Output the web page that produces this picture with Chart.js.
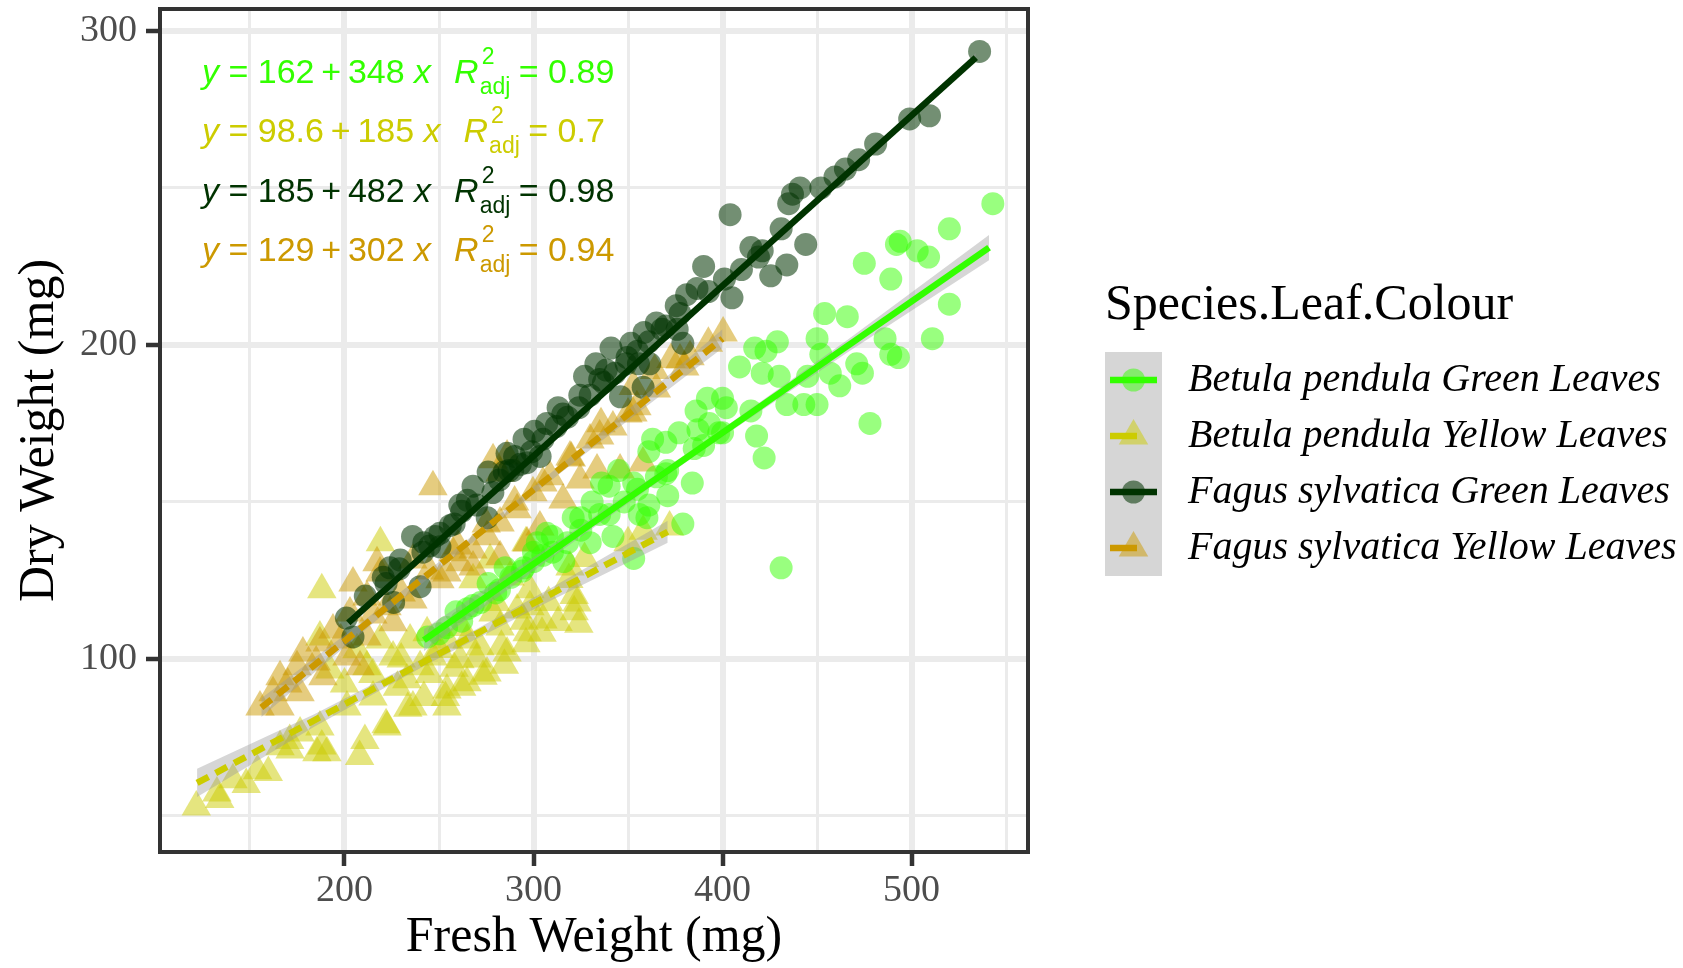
<!DOCTYPE html>
<html>
<head>
<meta charset="utf-8">
<script src="https://cdn.jsdelivr.net/npm/chart.js@4.4.0/dist/chart.umd.min.js"></script>
<style>
  html, body { margin: 0; padding: 0; background: #fff; }
  canvas { display: block; }
</style>
</head>
<body>
<canvas id="chart" width="1683" height="968"></canvas>
<script>
// ====== DATA ======
const groupNames = ["Betula pendula Green Leaves", "Betula pendula Yellow Leaves",
                    "Fagus sylvatica Green Leaves", "Fagus sylvatica Yellow Leaves"];

// Betula pendula, green leaves (circles)
const bgX = [543, 520, 494, 503, 509, 492, 475, 489, 520, 511, 486, 489, 493, 454, 466, 450, 452, 417, 429, 423,
             409, 421, 430, 445, 457, 462, 471, 474, 434, 443, 450, 478, 400, 402, 386, 418, 393, 431, 422, 384,
             371, 379, 360, 353, 340, 331, 325, 307, 342, 330, 316, 300, 370, 361, 377, 336, 363, 353, 356, 321,
             300, 244, 254, 259, 268, 276, 282, 285, 294, 302, 310, 361, 371, 392, 262, 272, 288, 305, 318, 335,
             348, 365, 390, 398, 345, 387, 250, 265, 280, 295, 310, 325, 340, 355, 370, 385, 400, 415];
const bgY = [245, 237, 233, 230, 228, 232, 226, 221, 213, 202, 202, 197, 196, 210, 209, 202, 197, 199, 201, 198,
             193, 191, 190, 190, 191, 187, 194, 191, 181, 181, 181, 175, 183, 180, 179, 171, 175, 129, 164, 156,
             152, 143, 145, 132, 155, 150, 145, 140, 139, 137, 131, 134, 169, 166, 172, 156, 170, 156, 146, 145,
             131, 107, 110, 115, 117, 124, 122, 129, 128, 137, 139, 149, 160, 183, 112, 118, 126, 133, 137, 146,
             150, 158, 168, 172, 160, 173, 108, 116, 121, 129, 134, 141, 146, 154, 159, 167, 172, 179];

// Betula pendula, yellow leaves (triangles)
const byX = [121.6, 134, 154, 159.7, 171, 188, 208, 210.8, 188, 219, 222, 233.5, 242, 253.4, 262, 273.3, 284.6, 296, 304.5, 313,
             321.5, 321.5, 318.7, 187, 192.3, 211.9, 225.7, 240, 254.2, 264.8, 275.4, 286, 296.6, 282.3, 271.7, 278.6, 291.3, 298.1, 287.6, 277,
             254.2, 236.2, 222.5, 190.7, 171.2, 141, 132.5, 233, 215.1, 201.3, 187, 176.5, 165.9, 246.8, 261.1, 264.8, 254.2, 243.7, 234.7, 218.8,
             206.6, 268, 185.4, 148, 305, 324, 323, 298.1, 372, 319.3, 358, 350, 327, 296,
             200, 215, 228, 245, 258, 270, 283, 295, 308, 280, 262, 230, 250];
const byY = [52.8, 55.2, 64.4, 63.8, 74, 72.3, 68.9, 74, 122, 137, 79, 84.3, 87.7, 87.7, 91, 94.5, 98, 104.8, 108.2, 111.6,
             115, 120.2, 125.3, 107, 96.5, 97.5, 100.6, 97.5, 90.1, 92.4, 95.5, 101.9, 108.3, 110.2, 103.8, 114.6, 115.6, 122, 126.1, 131.5,
             84.7, 84.7, 78.3, 70.1, 71, 61.5, 57.3, 93.4, 87.9, 84.7, 78.3, 76.4, 72, 100.6, 99.7, 106, 106, 108.3, 106, 106,
             102.9, 125.2, 70.1, 60, 112.4, 111, 117.8, 116.6, 142, 129.3, 140.7, 137, 132, 137,
             92, 95, 91, 95, 97, 100, 104, 112, 118, 118, 110, 100, 103];

// Fagus sylvatica, green leaves (circles)
const fgX = [536, 509.5, 499, 481, 472, 465, 459.5, 452, 441, 437, 444, 435, 431, 425.5, 434, 419, 415, 421, 404, 410,
             401, 390, 392.5, 405, 386.5, 381, 375.5, 377.5, 370, 376, 379, 365, 358.5, 351.5, 355.5, 349.5, 361.5, 358, 341, 338.5,
             333, 327, 335, 346, 324.5, 315.5, 313, 307, 300.5, 295, 290, 286, 289, 296.5, 303.5, 284.5, 276, 278.5, 268, 265,
             261, 275.5, 256, 250.5, 250.5, 248, 242, 241.5, 236, 229, 229.5, 224, 222, 220.5, 240, 226, 211, 201, 204.5,
             245, 258, 270, 282, 293, 305, 318, 330, 343, 355, 368, 262, 287, 299, 312, 324, 337, 349, 361];
const fgY = [293.5, 273, 272, 264, 259, 256, 253.5, 250, 250, 248, 232, 245, 237, 222, 225.5, 228, 231, 230, 241.5, 224,
             221, 225, 217, 215, 218, 216, 212.5, 210, 206, 205, 200.5, 207, 204, 200.5, 194, 196, 194, 186.5, 199, 192,
             194, 190, 189, 183.5, 184, 178, 180, 175, 172.5, 170, 164.5, 165.5, 160, 162.5, 164.5, 159.5, 159.5, 153, 155, 150.5,
             149, 145, 142.5, 140, 135.7, 139, 137, 134, 139, 128.7, 131.5, 129, 124, 126, 123, 118, 120, 113, 107,
             136, 143, 149, 157, 162, 170, 177, 184, 191, 198, 205, 147, 160, 166, 174, 180, 188, 194, 201];

// Fagus sylvatica, yellow leaves (triangles)
const fyX = [400.3, 377.5, 382.8, 352.6, 342, 357.9, 333.6, 324.6, 278.6, 246.8, 282.3, 354.7, 329.9, 319.3, 308.7, 299.7, 291.3, 282.3, 275.4, 268,
             261.1, 254.2, 296.6, 303.4, 315.6, 282.3, 217.2, 345.8, 155.3, 162.2, 165.9, 174.9, 178, 187, 193.9, 202.9, 211.9, 218.8, 236.2, 257.4,
             268, 250.5, 236.2, 225.7, 211.9, 201.3, 188.6, 176.5, 165.9, 208.2, 204.5, 222.5, 335.7, 352.8, 364.1, 372.7, 392.5, 286,
             170, 185, 198, 215, 230, 245, 260, 275, 290, 305, 320, 335, 350, 365, 380];
const fyY = [203.8, 195.2, 196.2, 178.3, 173.9, 162.4, 160.2, 157, 163.4, 154.8, 159.2, 180.3, 169.7, 164.3, 158, 152.9, 147.5, 143.3, 138.9, 134.7,
             130.6, 127.4, 136.9, 142, 150.6, 132.5, 130.6, 160.2, 84.7, 89.2, 94.3, 97.5, 101.9, 105.1, 109.2, 114.6, 119.7, 127.4, 131.5, 133.8,
             129.3, 125.2, 118.8, 111.5, 107, 100.6, 94.3, 89.2, 84.7, 97.5, 124.2, 116.6, 174.9, 186.8, 191.9, 195.4, 200.5, 164.6,
             92, 99, 106, 114, 121, 128, 136, 143, 150, 156, 164, 171, 178, 186, 193];

// fitted lines (end points) and confidence bands
const bgFitX = [242, 541], bgFitY = [106, 231];
const byFitX = [122, 371], byFitY = [60.5, 140.5];
const fgFitX = [202, 534], fgFitY = [111.5, 291.5];
const fyFitX = [156, 400], fyFitY = [84.5, 202];
const bgBandX = [242, 317, 392, 466, 541], bgBandLo = [102.5, 135.5, 167.5, 197.6, 227], bgBandHi = [109.5, 139.1, 169.9, 201.6, 235];
const byBandX = [122, 184, 246, 309, 371], byBandLo = [56, 78.4, 99, 118.5, 137], byBandHi = [65, 82.4, 101.6, 122.5, 144];
const fgBandX = [202, 285, 368, 451, 534], fgBandLo = [110, 155.7, 201, 245.7, 290], fgBandHi = [113, 157.3, 202, 247.3, 293];
const fyBandX = [156, 217, 278, 339, 400], fyBandLo = [81.5, 112.3, 142.1, 170.8, 199], fyBandHi = [87.5, 115.3, 144.1, 173.8, 205];

// equation labels
const eqIntercept = ["162", "98.6", "185", "129"];
const eqSlope = ["348", "185", "482", "302"];
const eqR2 = ["0.89", "0.7", "0.98", "0.94"];

// axes
const xGrid = [150, 200, 250, 300, 350, 400, 450, 500, 550];
const xMajor = [200, 300, 400, 500];
const yGrid = [50, 100, 150, 200, 250, 300];
const yMajor = [100, 200, 300];

// ====== STYLE ======
const lineCol = ["#33FF00", "#CCCC00", "#003300", "#CC9900"];
const pointCol = ["rgba(51,255,0,0.5)", "rgba(204,204,0,0.5)", "rgba(0,51,0,0.55)", "rgba(204,153,0,0.5)"];
const bandFill = "rgba(153,153,153,0.4)";
const DASH = [13, 8];

function pts(xs, ys) { return xs.map((x, i) => ({ x: x, y: ys[i] })); }

function bandPair(xs, lo, hi, loIdx, order) {
  return [
    { type: 'line', data: pts(xs, lo), borderColor: 'rgba(0,0,0,0)', borderWidth: 0, pointRadius: 0, fill: false, order: 30 },
    { type: 'line', data: pts(xs, hi), borderColor: 'rgba(0,0,0,0)', borderWidth: 0, pointRadius: 0,
      fill: loIdx, backgroundColor: bandFill, order: order }
  ];
}
function fitLine(xs, ys, col, dashed, order) {
  return { type: 'line', data: pts(xs, ys), borderColor: col, borderWidth: 6.5, borderDash: dashed ? DASH : [],
           borderCapStyle: 'butt', pointRadius: 0, fill: false, tension: 0, order: order };
}
function scatterSet(xs, ys, col, style, r, order) {
  return { type: 'scatter', data: pts(xs, ys), pointStyle: style, pointRadius: r, backgroundColor: col,
           pointBorderWidth: 0, borderColor: 'rgba(0,0,0,0)', showLine: false, order: order };
}

// lower order = drawn on top (ggplot: points, then per group band+line)
const datasets = [].concat(
  bandPair(bgBandX, bgBandLo, bgBandHi, 0, 7),   // 0,1
  bandPair(byBandX, byBandLo, byBandHi, 2, 5),   // 2,3
  bandPair(fgBandX, fgBandLo, fgBandHi, 4, 3),   // 4,5
  bandPair(fyBandX, fyBandLo, fyBandHi, 6, 1),   // 6,7
  [fitLine(bgFitX, bgFitY, lineCol[0], false, 6),
   fitLine(byFitX, byFitY, lineCol[1], true, 4),
   fitLine(fgFitX, fgFitY, lineCol[2], false, 2),
   fitLine(fyFitX, fyFitY, lineCol[3], true, 0),
   scatterSet(byX, byY, pointCol[1], 'triangle', 17, 23),
   scatterSet(fyX, fyY, pointCol[3], 'triangle', 17, 22),
   scatterSet(bgX, bgY, pointCol[0], 'circle', 11.5, 21),
   scatterSet(fgX, fgY, pointCol[2], 'circle', 11.5, 20)]
);

// ====== DECORATION PLUGIN ======
function drawEq(ctx, x, y, i) {
  ctx.fillStyle = lineCol[i];
  ctx.textBaseline = 'middle';
  ctx.textAlign = 'left';
  const reg = '34px "Liberation Sans"', ita = 'italic 34px "Liberation Sans"', small = '23px "Liberation Sans"';
  const thin = '\u2009';
  let cx = x;
  const put = (t, f) => { ctx.font = f; ctx.fillText(t, cx, y); cx += ctx.measureText(t).width; };
  put('y', ita);
  put(' = ' + eqIntercept[i] + thin + '+' + thin + eqSlope[i] + ' ', reg);
  put('x', ita);
  cx += 23;
  put('R', ita);
  ctx.font = small;
  ctx.fillText('2', cx + 3, y - 16);
  ctx.fillText('adj', cx + 1, y + 14);
  cx += ctx.measureText('adj').width;
  put(' = ' + eqR2[i], reg);
}

function keyShape(ctx, style, x, y, r, col) {
  ctx.fillStyle = col;
  ctx.beginPath();
  if (style === 'circle') {
    ctx.arc(x, y, r, 0, Math.PI * 2);
  } else {
    ctx.moveTo(x, y - r);
    ctx.lineTo(x + r * Math.sin(Math.PI * 2 / 3), y - r * Math.cos(Math.PI * 2 / 3));
    ctx.lineTo(x + r * Math.sin(Math.PI * 4 / 3), y - r * Math.cos(Math.PI * 4 / 3));
    ctx.closePath();
  }
  ctx.fill();
}

const decor = {
  id: 'decor',
  afterDatasetsDraw(chart) {
    const { ctx, chartArea: a } = chart;
    ctx.save();
    const rows = [65, 124, 184, 243];
    for (let i = 0; i < 4; i++) drawEq(ctx, a.left + 42, a.top + rows[i], i);
    // panel border
    ctx.strokeStyle = '#333333';
    ctx.lineWidth = 4;
    ctx.strokeRect(a.left, a.top, a.right - a.left, a.bottom - a.top);
    ctx.restore();
  },
  afterDraw(chart) {
    const ctx = chart.ctx;
    ctx.save();
    ctx.fillStyle = '#000';
    ctx.textBaseline = 'middle';
    ctx.textAlign = 'left';
    ctx.font = '50px "Liberation Serif"';
    ctx.fillText('Species.Leaf.Colour', 1105, 306);
    const bx = 1105, by = 352, bw = 57, bh = 56;
    ctx.fillStyle = '#D6D6D6';
    ctx.fillRect(bx, by, bw, bh * 4);
    const styles = ['circle', 'triangle', 'circle', 'triangle'];
    for (let i = 0; i < 4; i++) {
      const cy = by + bh / 2 + bh * i, cx = bx + bw / 2;
      keyShape(ctx, styles[i], cx, cy, styles[i] === 'circle' ? 11.5 : 17, pointCol[i]);
      ctx.strokeStyle = lineCol[i];
      ctx.lineWidth = 6.5;
      ctx.lineCap = 'butt';
      ctx.beginPath();
      ctx.moveTo(bx + 5, cy);
      ctx.lineTo(i % 2 ? bx + 32 : bx + bw - 5, cy);
      ctx.stroke();
      ctx.fillStyle = '#000';
      ctx.font = 'italic 40px "Liberation Serif"';
      ctx.fillText(groupNames[i], 1188, cy);
    }
    ctx.restore();
  }
};

// ====== CHART ======
const tickFont = { family: 'Liberation Serif', size: 38 };
const titleFont = { family: 'Liberation Serif', size: 50 };

new Chart(document.getElementById('chart').getContext('2d'), {
  type: 'scatter',
  data: { datasets: datasets },
  options: {
    responsive: false,
    animation: false,
    devicePixelRatio: 1,
    layout: { autoPadding: false, padding: { top: 9, right: 655, bottom: 0, left: 0 } },
    plugins: { legend: { display: false }, tooltip: { enabled: false } },
    scales: {
      x: {
        type: 'linear', min: 102.4, max: 561.6,
        afterBuildTicks: s => { s.ticks = xGrid.map(v => ({ value: v })); },
        afterFit: s => { s.height = 116; s.paddingLeft = 0; s.paddingRight = 0; },
        ticks: { autoSkip: false, maxRotation: 0, padding: 2, color: '#4D4D4D', font: tickFont,
                 callback: v => xMajor.includes(v) ? String(v) : '' },
        grid: {
          color: '#EBEBEB',
          lineWidth: c => xMajor.includes(c.tick.value) ? 6 : 3,
          tickLength: 14,
          tickWidth: 4.5,
          tickColor: c => xMajor.includes(c.tick.value) ? '#333333' : 'rgba(0,0,0,0)'
        },
        border: { display: false },
        title: { display: true, text: 'Fresh Weight (mg)', color: '#000', font: titleFont, padding: { top: 0, bottom: 0 } }
      },
      y: {
        type: 'linear', min: 38.5, max: 307,
        afterBuildTicks: s => { s.ticks = yGrid.map(v => ({ value: v })); },
        afterFit: s => { s.width = 160; s.paddingTop = 0; s.paddingBottom = 0; },
        ticks: { autoSkip: false, padding: 9, color: '#4D4D4D', font: tickFont,
                 callback: v => yMajor.includes(v) ? String(v) : '' },
        grid: {
          color: '#EBEBEB',
          lineWidth: c => yMajor.includes(c.tick.value) ? 6 : 3,
          tickLength: 14,
          tickWidth: 4.5,
          tickColor: c => yMajor.includes(c.tick.value) ? '#333333' : 'rgba(0,0,0,0)'
        },
        border: { display: false },
        title: { display: true, text: 'Dry Weight (mg)', color: '#000', font: titleFont, padding: { top: 10, bottom: 0 } }
      }
    }
  },
  plugins: [decor]
});
</script>
</body>
</html>
